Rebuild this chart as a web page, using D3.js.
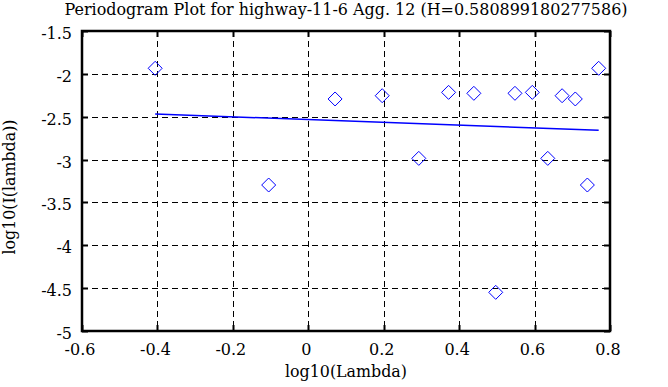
<!DOCTYPE html>
<html>
<head>
<meta charset="utf-8">
<script src="https://cdn.jsdelivr.net/npm/d3@7"></script>
<style>
  body { margin: 0; background: #fff; }
</style>
</head>
<body>
<div id="chart"></div>
<script>
// periodogram points (log10 lambda, log10 I(lambda))
const logLambda = [-0.406, -0.105, 0.071, 0.196, 0.293, 0.372, 0.439, 0.497,
                   0.548, 0.594, 0.635, 0.673, 0.708, 0.740, 0.770];
const logI = [-1.935, -3.297, -2.293, -2.255, -2.986, -2.216, -2.227, -4.549,
              -2.227, -2.216, -2.986, -2.255, -2.293, -3.297, -1.935];
// least squares fit end points
const fitX = [-0.406, 0.770];
const fitY = [-2.468, -2.658];

const xTicks = [-0.6, -0.4, -0.2, 0, 0.2, 0.4, 0.6, 0.8];
const yTicks = [-1.5, -2, -2.5, -3, -3.5, -4, -4.5, -5];

const W = 668, H = 387;
const plotL = 82, plotR = 610, plotT = 31, plotB = 331;
const FONT = "'DejaVu Serif', 'Liberation Serif', serif";

const svg = d3.select("#chart").append("svg")
  .attr("width", W).attr("height", H)
  .attr("font-family", FONT);

const x = d3.scaleLinear().domain([-0.6, 0.8]).range([plotL, plotR]);
const y = d3.scaleLinear().domain([-5, -1.5]).range([plotB, plotT]);

// grid
const g = svg.append("g");
g.selectAll(".vgrid").data(xTicks.slice(1, -1)).enter().append("line")
  .attr("x1", d => Math.round(x(d)) + 0.5).attr("x2", d => Math.round(x(d)) + 0.5)
  .attr("y1", plotT).attr("y2", plotB)
  .attr("stroke", "#000").attr("stroke-dasharray", "6,4");
g.selectAll(".hgrid").data(yTicks.slice(1, -1)).enter().append("line")
  .attr("y1", d => Math.round(y(d)) + 0.5).attr("y2", d => Math.round(y(d)) + 0.5)
  .attr("x1", plotL).attr("x2", plotR)
  .attr("stroke", "#000").attr("stroke-dasharray", "6,4");

// ticks inward on all sides
const tl = 6;
xTicks.forEach(t => {
  const px = Math.round(x(t)) + 0.5;
  g.append("line").attr("x1", px).attr("x2", px).attr("y1", plotB).attr("y2", plotB - tl)
    .attr("stroke", "#000").attr("stroke-width", 2);
  g.append("line").attr("x1", px).attr("x2", px).attr("y1", plotT).attr("y2", plotT + tl)
    .attr("stroke", "#000").attr("stroke-width", 2);
});
yTicks.forEach(t => {
  const py = Math.round(y(t)) + 0.5;
  g.append("line").attr("x1", plotL).attr("x2", plotL + tl).attr("y1", py).attr("y2", py)
    .attr("stroke", "#000").attr("stroke-width", 2);
  g.append("line").attr("x1", plotR).attr("x2", plotR - tl).attr("y1", py).attr("y2", py)
    .attr("stroke", "#000").attr("stroke-width", 2);
});

// frame
svg.append("rect")
  .attr("x", plotL).attr("y", plotT)
  .attr("width", plotR - plotL).attr("height", plotB - plotT)
  .attr("fill", "none").attr("stroke", "#000").attr("stroke-width", 2.5);

// tick labels (plain hyphen like the original)
svg.selectAll(".xl").data(xTicks).enter().append("text")
  .attr("x", d => x(d) - 2).attr("y", plotB + 24)
  .attr("text-anchor", "middle").attr("font-size", 16)
  .text(d => String(d));
svg.selectAll(".yl").data(yTicks).enter().append("text")
  .attr("x", plotL - 10).attr("y", d => y(d) + 8)
  .attr("text-anchor", "end").attr("font-size", 16)
  .text(d => String(d));

// fit line
const line = d3.line().x(d => x(d[0])).y(d => y(d[1]));
svg.append("path")
  .datum(d3.zip(fitX, fitY))
  .attr("d", line)
  .attr("fill", "none").attr("stroke", "#0000ff").attr("stroke-width", 1.5);

// diamonds
const r = 7;
svg.selectAll(".pt").data(d3.zip(logLambda, logI)).enter().append("path")
  .attr("transform", d => `translate(${x(d[0])},${y(d[1])})`)
  .attr("d", `M0,${-r}L${r},0L0,${r}L${-r},0Z`)
  .attr("fill", "none").attr("stroke", "#0000ff").attr("stroke-width", 1);

// titles
svg.append("text").attr("x", 346).attr("y", 15)
  .attr("text-anchor", "middle").attr("font-size", 16)
  .attr("textLength", 563).attr("lengthAdjust", "spacingAndGlyphs")
  .text("Periodogram Plot for highway-11-6 Agg. 12 (H=0.580899180277586)");
svg.append("text").attr("x", 346).attr("y", 377)
  .attr("text-anchor", "middle").attr("font-size", 16)
  .attr("textLength", 122).attr("lengthAdjust", "spacingAndGlyphs")
  .text("log10(Lambda)");
svg.append("text")
  .attr("transform", "translate(15,187) rotate(-90)")
  .attr("text-anchor", "middle").attr("font-size", 16)
  .attr("textLength", 135).attr("lengthAdjust", "spacingAndGlyphs")
  .text("log10(I(lambda))");
</script>
</body>
</html>
